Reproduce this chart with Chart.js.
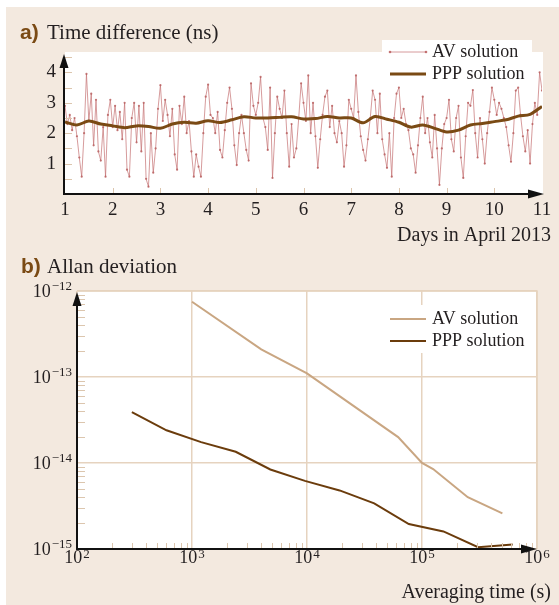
<!DOCTYPE html>
<html>
<head>
<meta charset="utf-8">
<script src="https://cdn.jsdelivr.net/npm/chart.js@4.4.0/dist/chart.umd.min.js"></script>
<style>
  html, body { margin: 0; padding: 0; background: #fff; }
  #page  { position: relative; width: 559px; height: 605px; overflow: hidden; }
  #panel { position: absolute; left: 6px; top: 7px; right: 0; bottom: 0; background: #f3e9df; }
  canvas { position: absolute; left: 0; }
  #c1 { top: 0; }
  #c2 { top: 250px; }
</style>
</head>
<body>
<div id="page">
  <div id="panel"></div>
  <canvas id="c1" width="559" height="250"></canvas>
  <canvas id="c2" width="559" height="355"></canvas>
</div>
<script>
// ---- panel a: time difference (ns), days in April 2013 ----
const avStartDay = 1;
const avStepDay  = 0.05;
const avValues = [
  2.9, 2.3, 2.6, 2.1, 2.5, 1.9, 1.2, 0.57, 2.0, 3.95,
  2.4, 3.3, 1.6, 3.1, 1.4, 1.1, 2.2, 0.57, 2.6, 3.1,
  2.2, 2.9, 2.1, 2.7, 1.8, 3.0, 0.8, 0.57, 2.5, 3.0,
  1.7, 2.9, 1.4, 3.0, 0.5, 0.24, 2.0, 0.7, 1.5, 2.8,
  3.58, 2.4, 3.1, 2.6, 1.9, 2.8, 1.3, 0.8, 2.9, 2.3,
  3.2, 2.0, 2.4, 1.4, 0.57, 1.3, 0.9, 0.57, 2.0, 3.2,
  3.6, 2.6, 2.5, 2.0, 2.7, 1.45, 1.2, 2.1, 3.0, 3.5,
  2.8, 1.6, 0.95, 2.0, 2.6, 2.0, 1.45, 1.1, 3.64, 2.9,
  2.6, 3.0, 3.85, 2.5, 2.2, 1.45, 3.5, 0.53, 2.0, 3.2,
  2.8, 2.5, 3.4, 2.0, 0.9, 2.3, 1.2, 1.5, 2.5, 3.64,
  3.0, 2.4, 3.9, 2.0, 3.0, 1.9, 0.86, 1.8, 2.6, 3.2,
  3.4, 2.2, 2.9, 2.0, 1.7, 2.4, 2.0, 0.9, 1.6, 3.1,
  2.8, 2.5, 3.9, 2.7, 1.9, 1.45, 1.1, 1.8, 2.5, 3.4,
  3.1, 2.0, 3.3, 1.8, 1.3, 0.86, 2.0, 0.57, 2.5, 3.3,
  3.5, 2.5, 2.8, 2.3, 2.1, 1.5, 1.3, 0.7, 1.6, 2.5,
  3.2, 2.0, 2.5, 1.7, 1.2, 2.6, 1.5, 0.3, 1.5, 2.3,
  2.5, 3.1, 1.8, 1.4, 2.5, 2.9, 1.2, 0.53, 1.9, 3.0,
  2.9, 3.42, 2.0, 1.2, 2.5, 1.8, 1.0, 2.0, 2.7, 3.5,
  3.1, 2.6, 3.0, 2.8, 2.5, 2.2, 1.6, 1.06, 2.0, 3.4,
  3.5, 2.6, 1.9, 1.4, 2.1, 1.0, 2.3, 3.0, 2.6, 4.0,
  3.4
];
const pppStepDay = 0.25;
const pppValues = [
  2.37, 2.27, 2.40, 2.30, 2.24, 2.18, 2.24, 2.22, 2.16, 2.30,
  2.36, 2.33, 2.41, 2.35, 2.44, 2.54, 2.50, 2.50, 2.52, 2.54,
  2.47, 2.48, 2.55, 2.50, 2.50, 2.34, 2.55, 2.46, 2.36, 2.20,
  2.27, 2.16, 2.04, 2.10, 2.27, 2.32, 2.38, 2.44, 2.56, 2.62,
  2.88
];
const dayTicks = [1, 2, 3, 4, 5, 6, 7, 8, 9, 10, 11];
const nsTicks  = [1, 2, 3, 4];
const nsMinor  = [0.5, 1, 1.5, 2, 2.5, 3, 3.5, 4, 4.5];

// ---- panel b: Allan deviation vs averaging time (s) ----
const avTau  = [1e3, 4e3, 1e4, 6.2e4, 1e5, 1.25e5, 2.5e5, 5e5];
const avAdev = [7.5e-13, 2.1e-13, 1.1e-13, 2.0e-14, 1.0e-14, 8.5e-15, 4.0e-15, 2.6e-15];
const pppTau  = [300, 600, 1200, 2400, 4800, 9600, 19200, 38400, 76800, 153600, 307200, 614400];
const pppAdev = [3.9e-14, 2.4e-14, 1.75e-14, 1.35e-14, 8.4e-15, 6.2e-15, 4.8e-15, 3.4e-15, 1.95e-15, 1.6e-15, 1.05e-15, 1.13e-15];
const tauExp  = [2, 3, 4, 5, 6];
const adevExp = [-12, -13, -14, -15];

const SERIF  = '"Liberation Serif", "Times New Roman", serif';
const SANS   = '"Liberation Sans", Arial, sans-serif';
const INK    = '#231f20';
const BROWN  = '#7a4a14';
const GRID   = '#e6d3bf';
const MINOR  = '#dcc6ae';
const AV_A   = 'rgba(196,112,114,0.7)';
const AV_B   = '#c9a682';
const PPP_B  = '#6b3c0c';

function arrowUp(ctx, x, tip, base, hw) {
  ctx.beginPath();
  ctx.moveTo(x, tip); ctx.lineTo(x - hw, base); ctx.lineTo(x + hw, base);
  ctx.closePath(); ctx.fill();
}
function arrowRight(ctx, y, tip, base, hh) {
  ctx.beginPath();
  ctx.moveTo(tip, y); ctx.lineTo(base, y - hh); ctx.lineTo(base, y + hh);
  ctx.closePath(); ctx.fill();
}
function panelTitle(ctx, tag, text, x, y, tx) {
  ctx.save();
  ctx.textBaseline = 'alphabetic';
  ctx.textAlign = 'left';
  ctx.fillStyle = BROWN;
  ctx.font = 'bold 21px ' + SANS;
  ctx.fillText(tag, x, y);
  ctx.fillStyle = INK;
  ctx.font = '21px ' + SERIF;
  ctx.fillText(text, tx, y);
  ctx.restore();
}
// "10" with a raised exponent
function drawPow(ctx, e, x, y, align, lift) {
  const base = '10';
  const exp = (e < 0 ? '\u2212' : '') + Math.abs(e);
  ctx.font = '18px ' + SERIF;
  const wb = ctx.measureText(base).width;
  ctx.font = '13px ' + SERIF;
  const we = ctx.measureText(exp).width;
  const x0 = align === 'right' ? x - wb - we - 1 : x - (wb + we + 1) / 2;
  ctx.textAlign = 'left';
  ctx.textBaseline = 'middle';
  ctx.font = '18px ' + SERIF;
  ctx.fillText(base, x0, y);
  ctx.textBaseline = 'alphabetic';
  ctx.font = '13px ' + SERIF;
  ctx.fillText(exp, x0 + wb + 1, y - lift);
}
function isDecade(v) {
  const r = Math.log10(v);
  return Math.abs(r - Math.round(r)) < 1e-6;
}

// ============================================================
//  PANEL A
// ============================================================
const decorA = {
  id: 'decorA',
  beforeDraw(chart) {
    const { ctx, chartArea: a } = chart;
    ctx.save();
    ctx.fillStyle = '#fff';
    ctx.fillRect(a.left, a.top, a.right - a.left + 1, a.bottom - a.top);
    ctx.restore();
  },
  afterDatasetsDraw(chart) {
    const ctx = chart.ctx;
    ctx.save();
    ctx.fillStyle = '#fff';
    ctx.fillRect(382, 40, 150, 46);
    // AV sample
    ctx.strokeStyle = AV_A; ctx.lineWidth = 1;
    ctx.beginPath(); ctx.moveTo(390, 52); ctx.lineTo(426, 52); ctx.stroke();
    ctx.fillStyle = 'rgba(190,100,100,0.9)';
    [390, 426].forEach(function (x) { ctx.beginPath(); ctx.arc(x, 52, 1.3, 0, Math.PI * 2); ctx.fill(); });
    // PPP sample
    ctx.strokeStyle = BROWN; ctx.lineWidth = 3;
    ctx.beginPath(); ctx.moveTo(390, 74); ctx.lineTo(426, 74); ctx.stroke();
    ctx.fillStyle = INK;
    ctx.font = '18px ' + SERIF;
    ctx.textBaseline = 'middle'; ctx.textAlign = 'left';
    ctx.fillText('AV solution', 432, 52);
    ctx.fillText('PPP solution', 432, 74);
    ctx.restore();
  },
  afterDraw(chart) {
    const ctx = chart.ctx;
    const xs = chart.scales.x, ys = chart.scales.y;
    const a = chart.chartArea;
    ctx.save();
    // inner minor ticks
    ctx.strokeStyle = MINOR; ctx.lineWidth = 1;
    nsMinor.forEach(function (v) {
      const y = Math.round(ys.getPixelForValue(v)) + 0.5;
      ctx.beginPath(); ctx.moveTo(a.left, y); ctx.lineTo(a.left + 7, y); ctx.stroke();
    });
    dayTicks.slice(1, -1).forEach(function (d) {
      const x = Math.round(xs.getPixelForValue(d)) + 0.5;
      ctx.beginPath(); ctx.moveTo(x, a.bottom); ctx.lineTo(x, a.bottom - 6); ctx.stroke();
    });
    // axes with arrows
    ctx.strokeStyle = '#111'; ctx.fillStyle = '#111'; ctx.lineWidth = 2;
    const ax = a.left - 1, ay = a.bottom;
    ctx.beginPath(); ctx.moveTo(ax, ay + 1); ctx.lineTo(ax, 64); ctx.stroke();
    arrowUp(ctx, ax, 54, 68, 4.5);
    ctx.beginPath(); ctx.moveTo(ax - 1, ay); ctx.lineTo(532, ay); ctx.stroke();
    arrowRight(ctx, ay, 544, 528, 4.5);
    // axis title
    ctx.fillStyle = INK;
    ctx.font = '20px ' + SERIF;
    ctx.textAlign = 'right'; ctx.textBaseline = 'middle';
    ctx.fillText('Days in April 2013', 551, 236);
    ctx.restore();
    panelTitle(ctx, 'a)', 'Time difference (ns)', 20, 39, 47);
  }
};

new Chart(document.getElementById('c1'), {
  type: 'line',
  data: {
    datasets: [
      {
        label: 'AV solution',
        data: avValues.map(function (v, i) { return { x: avStartDay + i * avStepDay, y: v }; }),
        borderColor: AV_A,
        borderWidth: 1,
        pointRadius: 1.1,
        pointBorderWidth: 0,
        pointBackgroundColor: 'rgba(185,95,95,0.85)',
        tension: 0,
        order: 1
      },
      {
        label: 'PPP solution',
        data: pppValues.map(function (v, i) { return { x: avStartDay + i * pppStepDay, y: v }; }),
        borderColor: BROWN,
        borderWidth: 3,
        pointRadius: 0,
        tension: 0.3,
        order: 0
      }
    ]
  },
  options: {
    responsive: false,
    animation: false,
    layout: { padding: { left: 0, right: 17, top: 52, bottom: 0 } },
    plugins: { legend: { display: false }, tooltip: { enabled: false } },
    scales: {
      x: {
        type: 'linear', min: 1, max: 11,
        afterFit: function (s) { s.height = 56; },
        grid: { display: false, drawTicks: false },
        border: { display: false },
        ticks: {
          stepSize: 1, padding: 5, autoSkip: false, maxRotation: 0,
          color: INK, font: { family: SERIF, size: 19 },
          callback: function (v) { return dayTicks.includes(v) ? String(v) : ''; }
        }
      },
      y: {
        type: 'linear', min: 0, max: 4.67,
        afterFit: function (s) { s.width = 65; },
        grid: { display: false, drawTicks: false },
        border: { display: false },
        ticks: {
          stepSize: 1, padding: 9,
          color: INK, font: { family: SERIF, size: 19 },
          callback: function (v) { return nsTicks.includes(v) ? String(v) : ''; }
        }
      }
    }
  },
  plugins: [decorA]
});

// ============================================================
//  PANEL B
// ============================================================
const decorB = {
  id: 'decorB',
  beforeDraw(chart) {
    const { ctx, chartArea: a } = chart;
    ctx.save();
    ctx.fillStyle = '#fff';
    ctx.fillRect(a.left, a.top, a.right - a.left, a.bottom - a.top);
    ctx.restore();
  },
  afterDatasetsDraw(chart) {
    const ctx = chart.ctx;
    ctx.save();
    ctx.fillStyle = '#fff';
    ctx.fillRect(386, 55, 146, 48);
    ctx.lineWidth = 2;
    ctx.strokeStyle = AV_B;
    ctx.beginPath(); ctx.moveTo(390, 69); ctx.lineTo(426, 69); ctx.stroke();
    ctx.strokeStyle = PPP_B;
    ctx.beginPath(); ctx.moveTo(390, 91); ctx.lineTo(426, 91); ctx.stroke();
    ctx.fillStyle = INK;
    ctx.font = '18px ' + SERIF;
    ctx.textBaseline = 'middle'; ctx.textAlign = 'left';
    ctx.fillText('AV solution', 432, 69);
    ctx.fillText('PPP solution', 432, 91);
    ctx.restore();
  },
  afterDraw(chart) {
    const ctx = chart.ctx;
    const xs = chart.scales.x, ys = chart.scales.y;
    const a = chart.chartArea;
    ctx.save();
    // top / right frame
    ctx.strokeStyle = GRID; ctx.lineWidth = 1.5;
    ctx.beginPath(); ctx.moveTo(a.left, a.top); ctx.lineTo(a.right, a.top); ctx.lineTo(a.right, a.bottom); ctx.stroke();
    // minor ticks
    ctx.strokeStyle = MINOR; ctx.lineWidth = 1;
    adevExp.slice(0, -1).forEach(function (e) {
      for (let k = 2; k <= 9; k++) {
        const y = Math.round(ys.getPixelForValue(k * Math.pow(10, e - 1))) + 0.5;
        ctx.beginPath(); ctx.moveTo(a.left, y); ctx.lineTo(a.left + 8, y); ctx.stroke();
      }
    });
    tauExp.slice(0, -1).forEach(function (e) {
      for (let k = 2; k <= 9; k++) {
        const x = Math.round(xs.getPixelForValue(k * Math.pow(10, e))) + 0.5;
        ctx.beginPath(); ctx.moveTo(x, a.bottom); ctx.lineTo(x, a.bottom - 6); ctx.stroke();
      }
    });
    // axes with arrows
    ctx.strokeStyle = '#111'; ctx.fillStyle = '#111'; ctx.lineWidth = 2;
    ctx.beginPath(); ctx.moveTo(a.left, a.bottom + 1); ctx.lineTo(a.left, a.top + 12); ctx.stroke();
    arrowUp(ctx, a.left, a.top + 1, a.top + 15, 4.5);
    ctx.beginPath(); ctx.moveTo(a.left - 1, a.bottom); ctx.lineTo(a.right - 8, a.bottom); ctx.stroke();
    arrowRight(ctx, a.bottom, a.right, a.right - 16, 4.5);
    // tick labels
    ctx.fillStyle = INK;
    adevExp.forEach(function (e) {
      drawPow(ctx, e, a.left - 5, ys.getPixelForValue(Math.pow(10, e)) + 1, 'right', 2);
    });
    tauExp.forEach(function (e) {
      drawPow(ctx, e, xs.getPixelForValue(Math.pow(10, e)), a.bottom + 9.5, 'center', 1);
    });
    // axis title
    ctx.font = '20px ' + SERIF;
    ctx.textAlign = 'right'; ctx.textBaseline = 'middle';
    ctx.fillText('Averaging time (s)', 551, 343);
    ctx.restore();
    panelTitle(ctx, 'b)', 'Allan deviation', 21, 23, 47);
  }
};

new Chart(document.getElementById('c2'), {
  type: 'line',
  data: {
    datasets: [
      {
        label: 'AV solution',
        data: avTau.map(function (t, i) { return { x: t, y: avAdev[i] }; }),
        borderColor: AV_B,
        borderWidth: 2,
        pointRadius: 0,
        tension: 0
      },
      {
        label: 'PPP solution',
        data: pppTau.map(function (t, i) { return { x: t, y: pppAdev[i] }; }),
        borderColor: PPP_B,
        borderWidth: 2,
        pointRadius: 0,
        tension: 0
      }
    ]
  },
  options: {
    responsive: false,
    animation: false,
    layout: { padding: { left: 0, right: 22, top: 41, bottom: 0 } },
    plugins: { legend: { display: false }, tooltip: { enabled: false } },
    scales: {
      x: {
        type: 'logarithmic', min: 1e2, max: 1e6,
        afterFit: function (s) { s.height = 56; },
        ticks: { display: false },
        border: { display: false },
        grid: {
          drawTicks: false, lineWidth: 1.5,
          color: function (c) { return c.tick && isDecade(c.tick.value) ? GRID : 'rgba(0,0,0,0)'; }
        }
      },
      y: {
        type: 'logarithmic', min: 1e-15, max: 1e-12,
        afterFit: function (s) { s.width = 77; },
        ticks: { display: false },
        border: { display: false },
        grid: {
          drawTicks: false, lineWidth: 1.5,
          color: function (c) { return c.tick && isDecade(c.tick.value) ? GRID : 'rgba(0,0,0,0)'; }
        }
      }
    }
  },
  plugins: [decorB]
});
</script>
</body>
</html>
